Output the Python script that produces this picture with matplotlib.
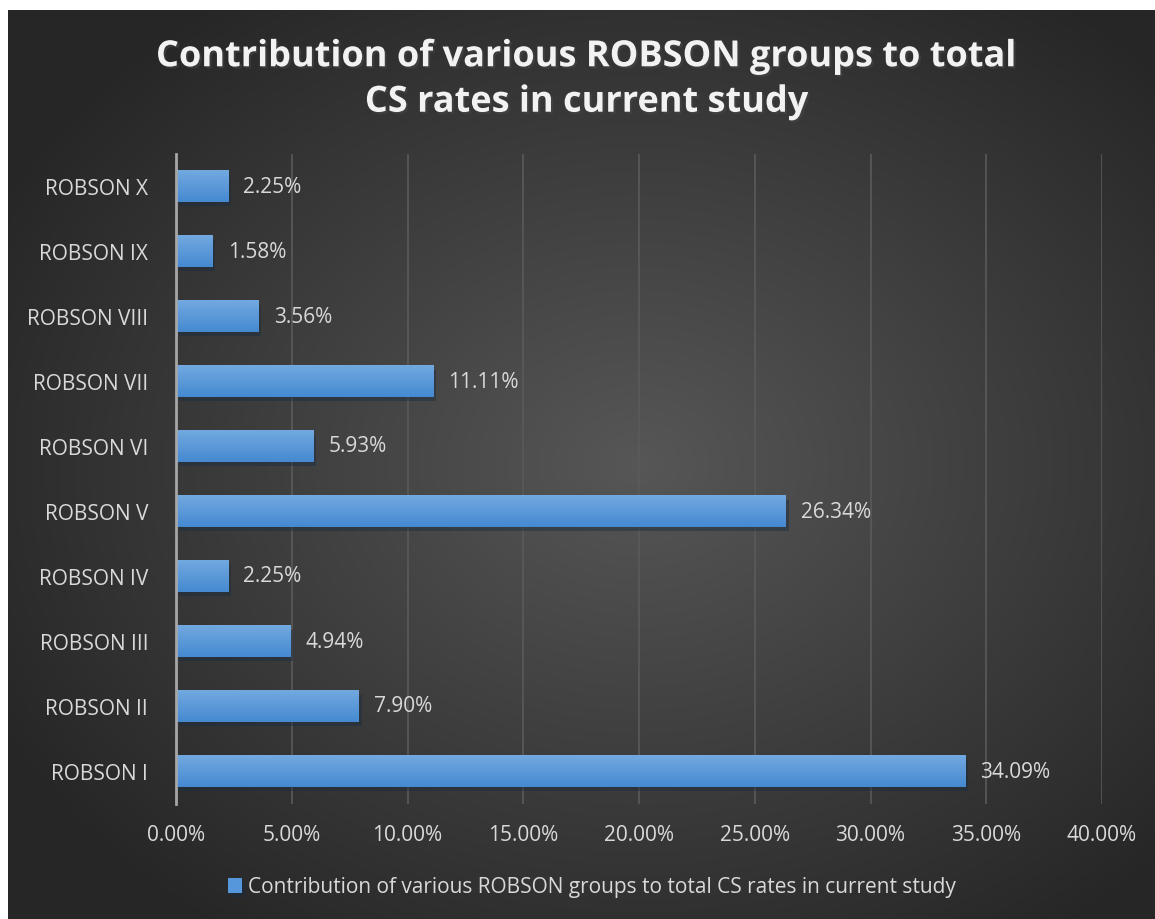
import matplotlib.pyplot as plt
import matplotlib.patheffects as pe
import numpy as np
from matplotlib.colors import LinearSegmentedColormap
from matplotlib.ticker import FuncFormatter, MultipleLocator

groups = ["ROBSON I", "ROBSON II", "ROBSON III", "ROBSON IV", "ROBSON V",
          "ROBSON VI", "ROBSON VII", "ROBSON VIII", "ROBSON IX", "ROBSON X"]
values = [34.09, 7.90, 4.94, 2.25, 26.34, 5.93, 11.11, 3.56, 1.58, 2.25]
series_name = "Contribution of various ROBSON groups to total CS rates in current study"
title = "Contribution of various ROBSON groups to total\nCS rates in current study"

W, H = 1155, 920
plt.rcParams["font.family"] = ["Open Sans", "DejaVu Sans"]
fig = plt.figure(figsize=(W / 100, H / 100), dpi=100)
fig.patch.set_facecolor("white")

# dark radial background (leaves a thin white margin top/left like the source)
bg = fig.add_axes([8 / W, 0, 1 - 8 / W, 1 - 11 / H])
bg.set_axis_off()
yy, xx = np.mgrid[0:1:400j, 0:1:500j]
r = np.sqrt(((xx - 0.55) / 0.8) ** 2 + ((yy - 0.5) / 0.8) ** 2)
shade = np.clip(0.34 - 0.24 * r, 0.15, 0.34)
bg.imshow(np.dstack([shade] * 3), aspect="auto", extent=[0, 1, 0, 1], interpolation="bilinear")

ax = fig.add_axes([176 / W, 1 - 804.5 / H, (1102 - 176) / W, (804.5 - 154.5) / H])
ax.patch.set_alpha(0)

y = np.arange(len(groups))
bh = 0.48
bars = ax.barh(y, values, height=bh, color="#5597da", zorder=3)
for b in bars:
    b.set_path_effects([pe.SimplePatchShadow(offset=(2, -3), alpha=0.45), pe.Normal()])

# vertical gradient on each bar, lighter at top
grad = LinearSegmentedColormap.from_list("bar", ["#4589d1", "#72a9e0"])
for b, yi, v in zip(bars, y, values):
    im = ax.imshow(np.linspace(0, 1, 50).reshape(-1, 1), cmap=grad, aspect="auto",
                   extent=[0, v, yi - bh / 2, yi + bh / 2], origin="lower", zorder=3.5)
    im.set_clip_path(b)

for yi, v in zip(y, values):
    ax.annotate(f"{v:.2f}%", (v, yi), xytext=(11, 0), textcoords="offset points",
                va="center", ha="left", fontsize=15, color="#d9d9d9")

ax.set_xlim(0, 40)
ax.set_ylim(-0.5, len(groups) - 0.5)
ax.xaxis.set_major_locator(MultipleLocator(5))
ax.xaxis.set_major_formatter(FuncFormatter(lambda x, p: f"{x:.2f}%"))
ax.set_yticks(y)
ax.set_yticklabels(groups)
ax.tick_params(axis="both", length=0, labelsize=15, labelcolor="#d9d9d9")
ax.tick_params(axis="x", pad=15)
ax.tick_params(axis="y", pad=20)
ax.grid(axis="x", color="#5a5a5a", linewidth=1.2, zorder=0)
for s in ["top", "right", "bottom"]:
    ax.spines[s].set_visible(False)
ax.spines["left"].set_color("#a6a6a6")
ax.spines["left"].set_linewidth(2)
ax.spines["left"].set_zorder(4)

fig.text(587 / W, 1 - 81 / H, title, ha="center", va="center", fontsize=26,
         fontweight="bold", color="#f2f2f2", linespacing=1.35,
         path_effects=[pe.withSimplePatchShadow(offset=(1.5, -1.5), alpha=0.5)])

leg = fig.legend([bars[0]], [series_name], loc="center", bbox_to_anchor=(592 / W, 1 - 888 / H),
                 frameon=False, fontsize=15, handlelength=0.7, handleheight=0.7,
                 handletextpad=0.3, labelcolor="#d9d9d9")

fig.savefig("out.png", dpi=100)
